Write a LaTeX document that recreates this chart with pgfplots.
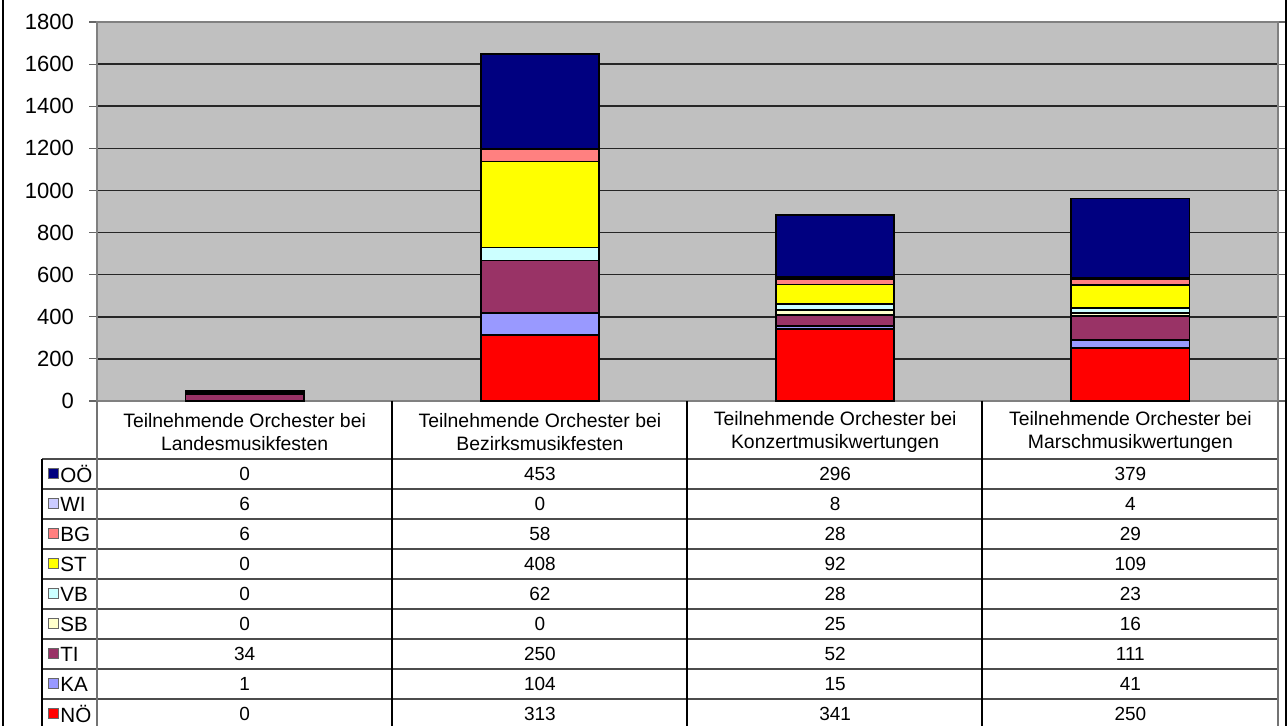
\documentclass[border=0pt]{standalone}
\usepackage{fontspec}
\setmainfont{Liberation Sans}
\usepackage{pgfplots}
\usepackage{pgfplotstable}
\pgfplotsset{compat=1.18}
\definecolor{cOO}{HTML}{000080}
\definecolor{cWI}{HTML}{CCCCFF}
\definecolor{cBG}{HTML}{FF8080}
\definecolor{cST}{HTML}{FFFF00}
\definecolor{cVB}{HTML}{CCFFFF}
\definecolor{cSB}{HTML}{FFFFCC}
\definecolor{cTI}{HTML}{993366}
\definecolor{cKA}{HTML}{9999FF}
\definecolor{cNO}{HTML}{FF0000}
\definecolor{plotbg}{HTML}{C0C0C0}
\pgfplotstableread{
x OO WI BG ST VB SB TI KA NO
0 0 6 6 0 0 0 34 1 0
1 453 0 58 408 62 0 250 104 313
2 296 8 28 92 28 25 52 15 341
3 379 4 29 109 23 16 111 41 250
}\data
\begin{document}
\begin{tikzpicture}
\begin{axis}[
  at={(48.5pt,-200.5pt)}, anchor=south west,
  scale only axis, width=590.5pt, height=189.5pt,
  ybar stacked, bar width=0.40,
  xmin=-0.5, xmax=3.5, ymin=0, ymax=1800,
  xtick=\empty,
  ytick={0,200,...,1800},
  ymajorgrids,
  major grid style={black!85, line width=0.8pt},
  axis background/.style={fill=plotbg},
  axis line style={black!50, line width=0.8pt},
  tick align=outside, major tick length=4pt,
  ytick style={black!60, line width=0.6pt},
  tick label style={font=\fontsize{11}{13}\selectfont},
  /pgf/number format/assume math mode=true,
  /pgf/number format/1000 sep={},
  yticklabel style={xshift=-4pt},
  every axis plot/.append style={draw=black, line width=0.9pt},
  clip=false,
]
\addplot[fill=cNO] table[x=x,y=NO]{\data};
\addplot[fill=cKA] table[x=x,y=KA]{\data};
\addplot[fill=cTI] table[x=x,y=TI]{\data};
\addplot[fill=cSB] table[x=x,y=SB]{\data};
\addplot[fill=cVB] table[x=x,y=VB]{\data};
\addplot[fill=cST] table[x=x,y=ST]{\data};
\addplot[fill=cBG] table[x=x,y=BG]{\data};
\addplot[fill=cWI] table[x=x,y=WI]{\data};
\addplot[fill=cOO] table[x=x,y=OO]{\data};
\end{axis}
\begin{scope}[x=0.5pt,y=-0.5pt]
% outer frame
\draw[black, line width=0.8pt] (3,0) -- (3,726);
\draw[black, line width=0.8pt] (1286,0) -- (1286,726);
% data table grid
\foreach \k in {0,...,8} {
  \draw[black!70, line width=0.7pt] (42,459+30*\k) -- (1278,459+30*\k);
}
\draw[black!55, line width=0.9pt] (97,401) -- (97,726);
\draw[black!55, line width=0.9pt] (1278,401) -- (1278,726);
\draw[black, line width=0.7pt] (42,459) -- (42,726);
\foreach \xx in {392,687,982} {
  \draw[black, line width=0.7pt] (\xx,401) -- (\xx,726);
}
% header
\node[align=center, font=\fontsize{9.7}{11.6}\selectfont] at (244.6,432) {Teilnehmende Orchester bei\\Landesmusikfesten};
\node[align=center, font=\fontsize{9.7}{11.6}\selectfont] at (539.9,432) {Teilnehmende Orchester bei\\Bezirksmusikfesten};
\node[align=center, font=\fontsize{9.7}{11.6}\selectfont] at (835.1,432) {Teilnehmende Orchester bei\\Konzertmusikwertungen};
\node[align=center, font=\fontsize{9.7}{11.6}\selectfont] at (1130.4,432) {Teilnehmende Orchester bei\\Marschmusikwertungen};
% legend keys and values
\foreach \col/\lab [count=\r from 0] in {OO/OÖ,WI/WI,BG/BG,ST/ST,VB/VB,SB/SB,TI/TI,KA/KA,NO/NÖ} {
  \fill[c\col] (48,468.5+30*\r) rectangle (58,478.5+30*\r);
  \draw[black!60, line width=0.3pt] (48,468.5+30*\r) rectangle (58,478.5+30*\r);
  \node[anchor=west, inner sep=0pt, font=\fontsize{10.3}{12}\selectfont] at (60,474+30*\r) {\lab};
  \foreach \c in {0,...,3} {
    \pgfplotstablegetelem{\c}{\col}\of\data
    \node[font=\fontsize{9.5}{11}\selectfont] at (244.6+295.25*\c,474+30*\r) {\pgfplotsretval};
  }
}
\pgfresetboundingbox
\useasboundingbox (0,0) rectangle (1288,726);
\end{scope}
\end{tikzpicture}
\end{document}
